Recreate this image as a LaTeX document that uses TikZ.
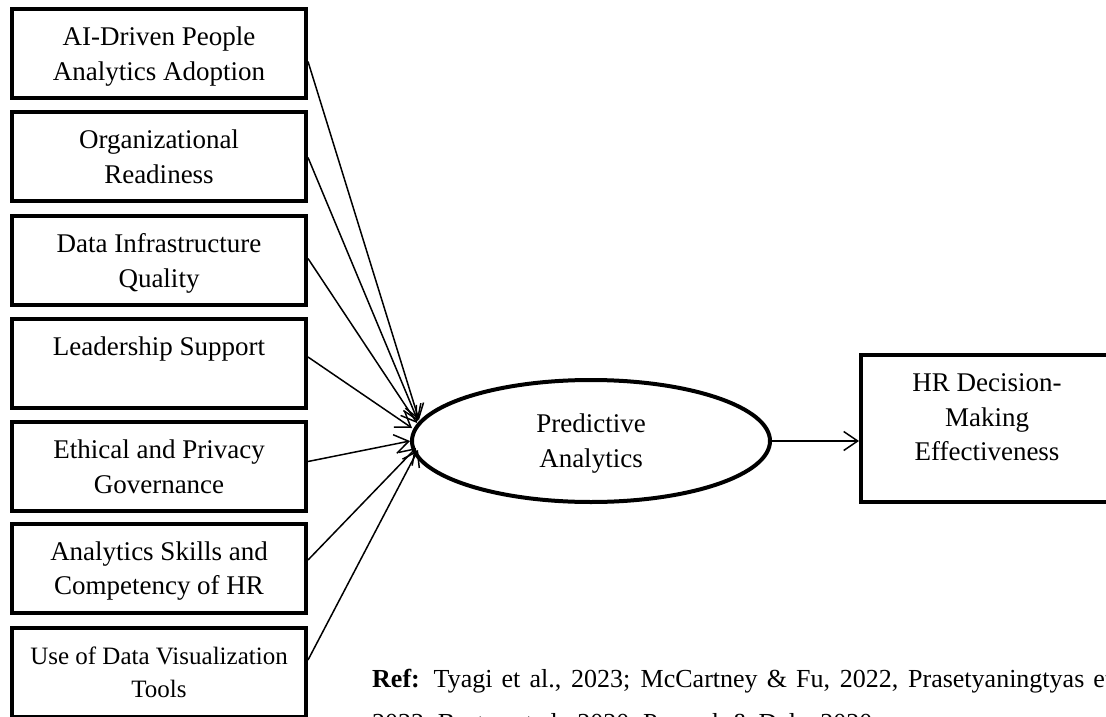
\documentclass[tikz,border=0pt]{standalone}
\usepackage{fontspec}
\setmainfont{Liberation Serif}
\usetikzlibrary{shapes.geometric,arrows.meta}
\begin{document}
\begin{tikzpicture}[x=1pt,y=-1pt,
  box/.style={draw,line width=4pt,minimum width=294pt,minimum height=89pt,inner sep=0pt,align=center,text depth=0pt,font=\fontsize{27}{34.5}\selectfont},
  link/.style={line width=1.5pt,-{Straight Barb[length=14pt,width=19pt,line width=1.5pt]}},
  reftext/.style={inner sep=0pt,anchor=base west,font=\fontsize{26}{45}\selectfont}]
\clip (0,0) rectangle (1106,717);
\fill[white] (0,0) rectangle (1106,717);
\node[box] (b1) at (159,53.5) {AI-Driven People\\Analytics Adoption};
\node[box] (b2) at (159,156.5) {Organizational\\Readiness};
\node[box] (b3) at (159,260.5) {Data Infrastructure\\Quality};
\node[box] (b4) at (159,363) {Leadership Support\\\strut};
\node[box] (b5) at (159,466.5) {Ethical and Privacy\\Governance};
\node[box] (b6) at (159,568) {Analytics Skills and\\Competency of HR};
\node[box,font=\fontsize{25}{33.5}\selectfont] (b7) at (159,672) {Use of Data Visualization\\Tools};
\node[draw,ellipse,line width=4pt,minimum width=358pt,minimum height=122pt,inner sep=0pt,align=center,text depth=0pt,font=\fontsize{27}{35}\selectfont] (ell) at (591,441) {Predictive\\Analytics};
\node[draw,line width=4pt,minimum width=252pt,minimum height=147pt,inner sep=0pt] (hr) at (987,428.5) {};
\node[align=center,font=\fontsize{27}{34.5}\selectfont,inner sep=0pt] (hrtext) at (987,417.5) {HR Decision-\\Making\\Effectiveness};
\coordinate (e1) at (419,420);
\coordinate (e2) at (418,421);
\coordinate (e3) at (417,423);
\coordinate (e4) at (412,428);
\coordinate (e5) at (410,441);
\coordinate (e6) at (416,448);
\coordinate (e7) at (418,450);
\draw[link] ([yshift=-8pt]b1.east) -- (e1);
\draw[link] ([yshift=-1pt]b2.east) -- (e2);
\draw[link] ([yshift=2pt]b3.east) -- (e3);
\draw[link] ([yshift=6pt]b4.east) -- (e4);
\draw[link] ([yshift=5pt]b5.east) -- (e5);
\draw[link] ([yshift=8pt]b6.east) -- (e6);
\draw[link] ([yshift=12pt]b7.east) -- (e7);
\draw[link] (ell.east) -- (ell.east -| hr.west);
\node[reftext] (ref1) at (372,687) {\hbox to 740pt{\textbf{Ref:} Tyagi et al., 2023; McCartney \& Fu, 2022, Prasetyaningtyas et}};
\node[reftext] (ref2) at (372,731) {2022; Bastos et al., 2020; Pessach \& Daly, 2020};
\end{tikzpicture}
\end{document}
